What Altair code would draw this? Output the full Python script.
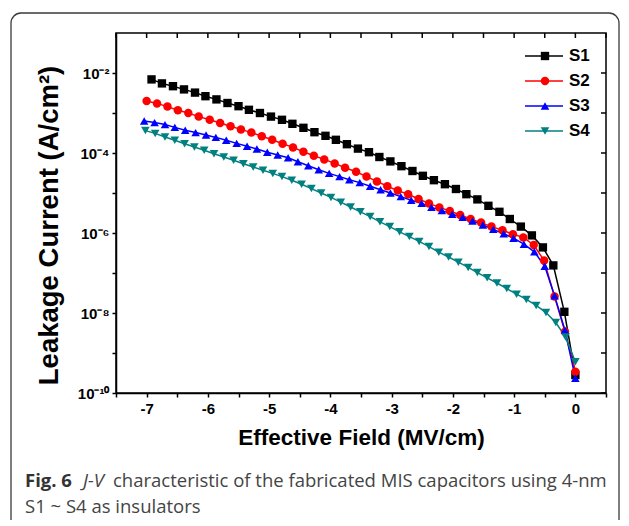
import json
import altair as alt
import pandas as pd

# ---------------- data ----------------
series_names = ["S1", "S2", "S3", "S4"]
series_colors = ["#000000", "#ff0000", "#0000ff", "#008080"]
series_shapes = ["square", "circle", "triangle-up", "triangle-down"]
series_sizes = [70, 75, 85, 85]

s1_field = [-6.92, -6.75, -6.57, -6.39, -6.21, -6.04, -5.86, -5.68, -5.50, -5.33,
            -5.15, -4.97, -4.79, -4.62, -4.44, -4.26, -4.08, -3.91, -3.73, -3.55,
            -3.37, -3.20, -3.02, -2.84, -2.66, -2.49, -2.31, -2.13, -1.95, -1.78,
            -1.60, -1.42, -1.24, -1.07, -0.89, -0.71, -0.53, -0.36, -0.18, 0.00]
s1_log10j = [-2.16, -2.26, -2.33, -2.41, -2.49, -2.58, -2.66, -2.75, -2.83, -2.92,
             -3.00, -3.09, -3.17, -3.27, -3.37, -3.48, -3.57, -3.67, -3.78, -3.89,
             -3.98, -4.10, -4.21, -4.33, -4.45, -4.57, -4.68, -4.78, -4.90, -5.03,
             -5.16, -5.32, -5.47, -5.65, -5.84, -6.06, -6.36, -6.81, -7.97, -9.55]

s2_field = [-7.00, -6.83, -6.66, -6.49, -6.32, -6.15, -5.97, -5.80, -5.63, -5.46,
            -5.29, -5.12, -4.95, -4.78, -4.61, -4.44, -4.27, -4.10, -3.93, -3.76,
            -3.58, -3.41, -3.24, -3.07, -2.90, -2.73, -2.56, -2.39, -2.22, -2.05,
            -1.88, -1.71, -1.54, -1.37, -1.19, -1.02, -0.85, -0.68, -0.51, -0.34,
            -0.17, 0.00]
s2_log10j = [-2.70, -2.76, -2.84, -2.93, -3.00, -3.09, -3.17, -3.25, -3.33, -3.41,
             -3.49, -3.58, -3.67, -3.77, -3.86, -3.97, -4.07, -4.16, -4.26, -4.37,
             -4.47, -4.59, -4.71, -4.83, -4.94, -5.03, -5.15, -5.26, -5.36, -5.45,
             -5.55, -5.65, -5.74, -5.84, -5.93, -6.03, -6.11, -6.30, -6.69, -7.59,
             -8.47, -9.47]

s3_field = [-7.04, -6.87, -6.70, -6.54, -6.37, -6.20, -6.03, -5.87, -5.70, -5.53,
            -5.36, -5.20, -5.03, -4.86, -4.69, -4.53, -4.36, -4.19, -4.02, -3.85,
            -3.69, -3.52, -3.35, -3.18, -3.02, -2.85, -2.68, -2.51, -2.35, -2.18,
            -2.01, -1.84, -1.68, -1.51, -1.34, -1.17, -1.01, -0.84, -0.67, -0.50,
            -0.34, -0.17, 0.00]
s3_log10j = [-3.20, -3.24, -3.29, -3.36, -3.43, -3.49, -3.55, -3.61, -3.68, -3.76,
             -3.83, -3.90, -3.98, -4.05, -4.12, -4.22, -4.32, -4.42, -4.51, -4.59,
             -4.67, -4.74, -4.83, -4.92, -5.00, -5.09, -5.18, -5.26, -5.36, -5.44,
             -5.53, -5.61, -5.70, -5.80, -5.91, -6.02, -6.13, -6.28, -6.47, -6.83,
             -7.57, -8.43, -9.63]

s4_field = [-7.02, -6.86, -6.70, -6.54, -6.38, -6.22, -6.06, -5.90, -5.74, -5.58,
            -5.42, -5.26, -5.10, -4.94, -4.79, -4.63, -4.47, -4.31, -4.15, -3.99,
            -3.83, -3.67, -3.51, -3.35, -3.19, -3.03, -2.87, -2.71, -2.55, -2.39,
            -2.23, -2.07, -1.91, -1.75, -1.60, -1.44, -1.28, -1.12, -0.96, -0.80,
            -0.64, -0.48, -0.32, -0.16, 0.00]
s4_log10j = [-3.44, -3.51, -3.60, -3.68, -3.77, -3.85, -3.93, -4.02, -4.10, -4.18,
             -4.27, -4.35, -4.43, -4.51, -4.59, -4.68, -4.78, -4.89, -5.00, -5.11,
             -5.23, -5.35, -5.47, -5.59, -5.72, -5.84, -5.97, -6.09, -6.21, -6.34,
             -6.48, -6.60, -6.73, -6.86, -6.99, -7.12, -7.25, -7.39, -7.53, -7.66,
             -7.81, -7.99, -8.24, -8.60, -9.22]

x_tick_values = [-7.5, -7, -6.5, -6, -5.5, -5, -4.5, -4, -3.5, -3, -2.5, -2,
                 -1.5, -1, -0.5, 0, 0.5]
y_tick_values = [1e-10, 1e-9, 1e-8, 1e-7, 1e-6, 1e-5, 1e-4, 1e-3, 1e-2]
y_tick_labels = ["10⁻¹⁰", "", "10⁻⁸", "", "10⁻⁶", "", "10⁻⁴", "", "10⁻²"]

x_title = "Effective Field (MV/cm)"
y_title = "Leakage Current (A/cm²)"
caption_bold = "Fig. 6"
caption_italic = "J-V"
caption_rest = "characteristic of the fabricated MIS capacitors using 4-nm"
caption_line2 = "S1 ~ S4 as insulators"

# ---------------- build table ----------------
frames = []
for name, f, lj in [("S1", s1_field, s1_log10j), ("S2", s2_field, s2_log10j),
                    ("S3", s3_field, s3_log10j), ("S4", s4_field, s4_log10j)]:
    frames.append(pd.DataFrame({"series": name, "field": f,
                                "J": [10.0 ** v for v in lj]}))
df = pd.concat(frames, ignore_index=True)

FONT = "Liberation Sans"
x_scale = alt.Scale(domain=[-7.5, 0.5], nice=False, zero=False)
y_scale = alt.Scale(type="log", domain=[1e-10, 1e-1], nice=False)

color_enc = alt.Color("series:N", scale=alt.Scale(domain=series_names, range=series_colors), legend=None)
shape_enc = alt.Shape("series:N", scale=alt.Scale(domain=series_names, range=series_shapes), legend=None)
size_enc = alt.Size("series:N", scale=alt.Scale(domain=series_names, range=series_sizes), legend=None)

x_axis = alt.Axis(values=x_tick_values,
                  labelExpr="datum.value % 1 == 0 ? toString(datum.value) : ''",
                  title=x_title, tickSize=4, tickWidth=1.5, tickColor="black",
                  domainWidth=1.5, domainColor="black", grid=False,
                  labelFont=FONT, labelFontSize=15, labelFontWeight="bold", labelColor="black",
                  labelPadding=4, labelOverlap=False, labelFlush=False,
                  titleFont=FONT, titleFontSize=22.5, titleFontWeight="bold", titleColor="black",
                  titlePadding=10)
y_axis = alt.Axis(values=y_tick_values,
                  labelExpr=json.dumps(y_tick_labels, ensure_ascii=False)
                  + "[round(log(datum.value) / LN10) + 10]",
                  title=y_title, tickSize=4, tickWidth=1.5, tickColor="black",
                  domainWidth=1.5, domainColor="black", grid=False,
                  labelFont=FONT, labelFontSize=15, labelFontWeight="bold", labelColor="black",
                  labelPadding=3, labelOverlap=False, labelFlush=False,
                  titleFont=FONT, titleFontSize=27.5, titleFontWeight="bold", titleColor="black",
                  titlePadding=14, titleY=192)

X = alt.X("field:Q", scale=x_scale, axis=x_axis)
Y = alt.Y("J:Q", scale=y_scale, axis=y_axis)

base = alt.Chart(df)
lines = base.mark_line(strokeWidth=1.5).encode(
    x=X, y=Y, color=color_enc, detail="series:N")
points = base.mark_point(filled=True, opacity=1).encode(
    x=X, y=Y, color=color_enc, shape=shape_enc, size=size_enc)

# inward ticks on the top and right frame
top_ticks = alt.Chart(pd.DataFrame({"field": x_tick_values})).mark_rule(
    color="black", strokeWidth=1.5).encode(x=X, y=alt.value(0), y2=alt.value(5))
right_ticks = alt.Chart(pd.DataFrame({"J": y_tick_values})).mark_rule(
    color="black", strokeWidth=1.5).encode(y=Y, x=alt.value(490), x2=alt.value(485))

main = alt.layer(lines, points, top_ticks, right_ticks)

# ---------------- legend ----------------
leg_df = pd.DataFrame({"series": series_names})
leg_y = alt.Y("series:N", scale=alt.Scale(type="point", domain=series_names,
                                          range=[23, 98], padding=0), axis=None)
leg_rule = alt.Chart(leg_df).mark_rule(strokeWidth=1.5).encode(
    x=alt.value(409), x2=alt.value(447), y=leg_y, color=color_enc)
leg_pt = alt.Chart(leg_df).mark_point(filled=True, opacity=1).encode(
    x=alt.value(429), y=leg_y, color=color_enc, shape=shape_enc, size=size_enc)
leg_txt = alt.Chart(leg_df).mark_text(
    align="left", baseline="middle", font=FONT, fontSize=17, fontWeight="bold",
    color="black").encode(x=alt.value(453), y=leg_y, text="series:N")
legend = alt.layer(leg_rule, leg_pt, leg_txt)

# ---------------- frame and caption ----------------
one = alt.Data(values=[{"k": 0}])
frame = alt.Chart(one).mark_rect(fillOpacity=0, stroke="#3a3a3a", strokeWidth=1.3,
                                 cornerRadius=10).encode(
    x=alt.value(-105), x2=alt.value(503), y=alt.value(-20), y2=alt.value(498))

def cap(text, x, y, weight="normal", style="normal", color="#444444"):
    return alt.Chart(alt.Data(values=[{"t": text}])).mark_text(
        align="left", baseline="middle", font="Open Sans", fontSize=18.5,
        fontWeight=weight, fontStyle=style, color=color).encode(
        x=alt.value(x), y=alt.value(y), text="t:N")

cap1 = cap(caption_bold, -91, 448, weight="bold", color="#333333")
cap2 = cap(caption_italic, -33, 448, style="italic")
cap3 = cap(caption_rest, -3, 448)
cap4 = cap(caption_line2, -91, 474)

chart = alt.layer(main, legend, frame, cap1, cap2, cap3, cap4).resolve_scale(
    y="independent").properties(
    width=490, height=360,
    autosize=alt.AutoSizeParams(type="none"),
    padding={"left": 108, "top": 25, "right": 15, "bottom": 127},
).configure_view(stroke="black", strokeWidth=1.5)

chart.save("out.html", embed_options={"renderer": "svg", "actions": False})
